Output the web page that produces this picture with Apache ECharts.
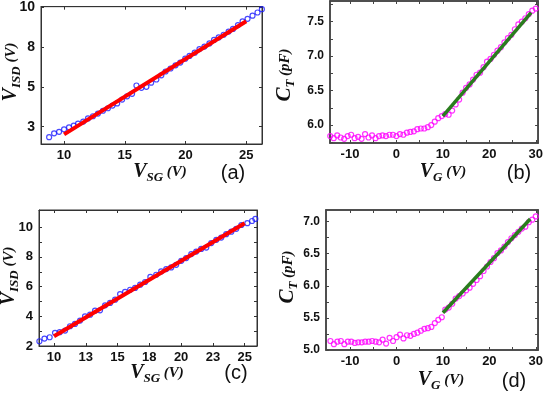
<!DOCTYPE html>
<html>
<head>
<meta charset="utf-8">
<script src="https://cdn.jsdelivr.net/npm/echarts@6/dist/echarts.min.js"></script>
<style>
html,body{margin:0;padding:0;background:#fff;}
#c{width:546px;height:393px;}
</style>
</head>
<body>
<div id="c"></div>
<script>
// ---------- Panel (a) ----------
const aX = [8.77,9.18,9.59,10.0,10.41,10.80,11.15,11.58,11.97,12.38,12.79,13.20,13.61,13.99,14.37,14.78,15.19,15.60,15.96,16.37,16.78,17.17,17.60,18.01,18.36,18.77,19.18,19.57,19.98,20.33,20.76,21.15,21.56,21.97,22.35,22.73,23.14,23.55,23.91,24.32,24.70,25.11,25.52,25.93,26.29];
const aY = [2.37,2.60,2.69,2.84,2.96,3.07,3.19,3.31,3.50,3.63,3.79,3.96,4.11,4.27,4.40,4.63,4.83,4.98,5.48,5.34,5.40,5.65,5.84,6.09,6.32,6.50,6.69,6.86,7.09,7.26,7.45,7.67,7.82,8.01,8.22,8.37,8.53,8.72,8.88,9.11,9.34,9.49,9.68,9.87,10.07];
const aFitX = [10, 25];
const aFitY = [2.54, 9.34];
const aXTicks = [10, 15, 20, 25];
const aXTickLabels = ['10', '15', '20', '25'];
const aYTicks = [3.0, 5.4, 7.8, 10.2];
const aYTickLabels = ['3', '5', '8', '10'];

// ---------- Panel (b) ----------
const bX = [-14.25,-13.5,-12.75,-12.0,-11.25,-10.5,-9.75,-9.0,-8.25,-7.5,-6.75,-6.0,-5.25,-4.5,-3.75,-3.0,-2.25,-1.5,-0.75,0.0,0.75,1.5,2.25,3.0,3.75,4.5,5.25,6.0,6.75,7.5,8.25,9.0,9.75,10.5,11.25,12.0,12.75,13.5,14.25,15.0,15.75,16.5,17.25,18.0,18.75,19.5,20.25,21.0,21.75,22.5,23.25,24.0,24.75,25.5,26.25,27.0,27.75,28.5,29.25,30.0];
const bY = [5.84,5.81,5.85,5.82,5.80,5.84,5.86,5.81,5.83,5.80,5.87,5.82,5.85,5.81,5.84,5.85,5.84,5.86,5.86,5.84,5.87,5.86,5.89,5.90,5.91,5.94,5.95,5.95,5.97,6.00,6.05,6.10,6.13,6.16,6.15,6.21,6.30,6.37,6.47,6.54,6.59,6.66,6.73,6.76,6.84,6.92,6.96,7.02,7.08,7.13,7.20,7.26,7.31,7.39,7.46,7.50,7.55,7.61,7.66,7.69];
const bFitX = [10, 29];
const bFitY = [6.13, 7.63];
const bXTicks = [-10, -5, 0, 5, 10, 15, 20, 25, 30];
const bXLabelValues = [-10, 0, 10, 20, 30];
const bYTicks = [5.75, 6.0, 6.25, 6.5, 6.75, 7.0, 7.25, 7.5, 7.75];
const bYLabelValues = [6.0, 6.5, 7.0, 7.5];

// ---------- Panel (c) ----------
const cX = [8.85,9.25,9.66,10.08,10.45,10.87,11.26,11.65,12.05,12.44,12.84,13.23,13.62,14.02,14.41,14.81,15.20,15.59,15.99,16.38,16.78,17.17,17.58,18.04,18.43,18.83,19.22,19.61,20.01,20.40,20.80,21.19,21.58,21.98,22.37,22.77,23.16,23.55,23.95,24.34,24.74,25.21,25.58,25.84];
const cY = [2.32,2.50,2.59,2.89,2.93,3.04,3.33,3.49,3.71,4.00,4.11,4.38,4.40,4.74,4.90,5.12,5.50,5.64,5.79,5.91,6.13,6.31,6.65,6.80,7.02,7.18,7.29,7.47,7.74,7.92,8.19,8.36,8.54,8.63,8.93,9.15,9.30,9.53,9.70,9.89,10.15,10.27,10.42,10.56];
const cFitX = [10, 25];
const cFitY = [2.66, 10.27];
const cXTicks = [10, 12.5, 15, 17.5, 20, 22.5, 25];
const cXTickLabels = ['10', '13', '15', '18', '20', '23', '25'];
const cYTicks = [2, 3, 4, 5, 6, 7, 8, 9, 10];
const cYLabelValues = [2, 4, 6, 8, 10];

// ---------- Panel (d) ----------
const dX = bX;
const dY = [5.14,5.09,5.13,5.14,5.09,5.13,5.13,5.11,5.12,5.12,5.13,5.13,5.14,5.13,5.12,5.16,5.10,5.19,5.14,5.20,5.24,5.18,5.23,5.22,5.25,5.27,5.30,5.33,5.34,5.36,5.42,5.47,5.51,5.63,5.66,5.72,5.80,5.84,5.88,5.93,5.97,6.03,6.09,6.15,6.23,6.30,6.37,6.43,6.51,6.55,6.61,6.68,6.74,6.79,6.84,6.89,6.92,6.99,7.03,7.08];
const dFitX = [10, 28.8];
const dFitY = [5.58, 7.04];
const dXTicks = bXTicks;
const dXLabelValues = bXLabelValues;
const dYTicks = [5.0, 5.25, 5.5, 5.75, 6.0, 6.25, 6.5, 6.75, 7.0];
const dYLabelValues = [5.0, 5.5, 6.0, 6.5, 7.0];

const zip = (xs, ys) => xs.map((x, i) => [x, ys[i]]);
const lookup = (ticks, labels) => v => {
  const i = ticks.findIndex(t => Math.abs(t - v) < 1e-6);
  return i >= 0 ? labels[i] : '';
};

const FONT = '"Liberation Sans", Arial, sans-serif';
const SERIF = '"Liberation Serif", "Times New Roman", serif';

const grids = [
  {left: 41, top: 1, width: 221, height: 143},
  {left: 330, top: 1, width: 214, height: 142},
  {left: 39, top: 210, width: 218, height: 136},
  {left: 326, top: 210, width: 216, height: 140}
];
const gridStyle = [
  {borderColor: '#333', borderWidth: 1},
  {borderColor: '#444', borderWidth: 1.5},
  {borderColor: '#333', borderWidth: 1},
  {borderColor: '#444', borderWidth: 1.5}
];

function xAxisPair(gi, min, max, tickVals, labelVals, fmt, fs, color, lw) {
  const common = {type: 'value', gridIndex: gi, min: min, max: max, splitLine: {show: false},
    axisLine: {show: true, onZero: false, lineStyle: {color: color, width: lw}}};
  return [
    Object.assign({}, common, {position: 'bottom',
      axisTick: {show: true, inside: true, length: 3, customValues: tickVals, lineStyle: {color: color, width: 1}},
      axisLabel: {show: true, customValues: labelVals, formatter: fmt, margin: 5,
        fontFamily: FONT, fontWeight: 'bold', fontSize: fs, color: '#111'}}),
    Object.assign({}, common, {position: 'top',
      axisTick: {show: true, inside: true, length: 3, customValues: tickVals, lineStyle: {color: color, width: 1}},
      axisLabel: {show: false}})
  ];
}
function yAxisPair(gi, min, max, tickVals, labelVals, fmt, fs, color, lw) {
  const common = {type: 'value', gridIndex: gi, min: min, max: max, splitLine: {show: false},
    axisLine: {show: true, onZero: false, lineStyle: {color: color, width: lw}}};
  return [
    Object.assign({}, common, {position: 'left',
      axisTick: {show: true, inside: true, length: 3, customValues: tickVals, lineStyle: {color: color, width: 1}},
      axisLabel: {show: true, customValues: labelVals, formatter: fmt, margin: 6,
        fontFamily: FONT, fontWeight: 'bold', fontSize: fs, color: '#111'}}),
    Object.assign({}, common, {position: 'right',
      axisTick: {show: true, inside: true, length: 3, customValues: tickVals, lineStyle: {color: color, width: 1}},
      axisLabel: {show: false}})
  ];
}

const xAxes = [].concat(
  xAxisPair(0, 8.1, 26.3, aXTicks, aXTicks, lookup(aXTicks, aXTickLabels), 13, '#333', 1),
  xAxisPair(1, -14.3, 30.5, bXTicks, bXLabelValues, v => String(v), 13, '#444', 1.5),
  xAxisPair(2, 8.82, 25.97, cXTicks, cXTicks, lookup(cXTicks, cXTickLabels), 13, '#333', 1),
  xAxisPair(3, -15.2, 30.5, dXTicks, dXLabelValues, v => String(v), 13, '#444', 1.5)
);
const yAxes = [].concat(
  yAxisPair(0, 1.96, 10.22, aYTicks, aYTicks, lookup(aYTicks, aYTickLabels), 14, '#333', 1),
  yAxisPair(1, 5.74, 7.80, bYTicks, bYLabelValues, v => v.toFixed(1), 12, '#444', 1.5),
  yAxisPair(2, 2, 11.16, cYTicks, cYLabelValues, v => String(v), 13, '#333', 1),
  yAxisPair(3, 5.0, 7.18, dYTicks, dYLabelValues, v => v.toFixed(1), 12, '#444', 1.5)
);

function scatter(ai, data, color) {
  return {type: 'scatter', xAxisIndex: ai * 2, yAxisIndex: ai * 2, data: data,
    symbol: 'circle', symbolSize: 5, z: 2, animation: false,
    itemStyle: {color: 'rgba(0,0,0,0)', borderColor: color, borderWidth: 1.2}};
}
function fit(ai, data, color, w) {
  return {type: 'line', xAxisIndex: ai * 2, yAxisIndex: ai * 2, data: data,
    showSymbol: false, symbol: 'none', z: 3, animation: false,
    lineStyle: {color: color, width: w}};
}

function title(x, y, main, sub, unit, rot, mainSize) {
  return {type: 'text', x: x, y: y, rotation: rot ? Math.PI / 2 : 0, z: 10,
    style: {
      text: '{m|' + main + '}{s|' + sub + '}{u| ' + unit + '}',
      align: 'center', verticalAlign: 'middle',
      rich: {
        m: {fontFamily: SERIF, fontWeight: 'bold', fontStyle: 'italic', fontSize: mainSize, lineHeight: 24, verticalAlign: 'middle', fill: '#111'},
        s: {fontFamily: SERIF, fontWeight: 'bold', fontStyle: 'italic', fontSize: 13, lineHeight: 12, verticalAlign: 'bottom', fill: '#111'},
        u: {fontFamily: SERIF, fontWeight: 'bold', fontStyle: 'italic', fontSize: 15, lineHeight: 24, verticalAlign: 'middle', fill: '#111'}
      }
    }};
}
function panelLabel(x, y, t) {
  return {type: 'text', x: x, y: y, z: 10,
    style: {text: t, align: 'center', verticalAlign: 'middle', fontFamily: FONT, fontSize: 20, fill: '#111'}};
}

const chart = echarts.init(document.getElementById('c'), null, {renderer: 'canvas'});
chart.setOption({
  animation: false,
  backgroundColor: '#fff',
  grid: grids.map((g, i) => Object.assign({show: true, backgroundColor: 'transparent'}, g, gridStyle[i])),
  xAxis: xAxes,
  yAxis: yAxes,
  series: [
    scatter(0, zip(aX, aY), '#1a1aff'),
    fit(0, zip(aFitX, aFitY), '#ff0000', 4),
    scatter(1, zip(bX, bY), '#ff00ff'),
    fit(1, zip(bFitX, bFitY), '#2a7d1e', 3.5),
    scatter(2, zip(cX, cY), '#1a1aff'),
    fit(2, zip(cFitX, cFitY), '#ff0000', 4),
    scatter(3, zip(dX, dY), '#ff00ff'),
    fit(3, zip(dFitX, dFitY), '#2a7d1e', 3.5)
  ],
  graphic: [
    title(160, 172, 'V', 'SG', '(V)', false, 20),
    title(11, 72, 'V', 'ISD', '(V)', true, 20),
    panelLabel(233, 173, '(a)'),
    title(443, 172, 'V', 'G', '(V)', false, 20),
    title(285, 75, 'C', 'T', '(pF)', true, 21),
    panelLabel(519, 173, '(b)'),
    title(157, 373, 'V', 'SG', '(V)', false, 20),
    title(9, 276, 'V', 'ISD', '(V)', true, 20),
    panelLabel(236, 373, '(c)'),
    title(441, 380, 'V', 'G', '(V)', false, 20),
    title(288, 277, 'C', 'T', '(pF)', true, 21),
    panelLabel(514, 381, '(d)')
  ]
});
</script>
</body>
</html>
